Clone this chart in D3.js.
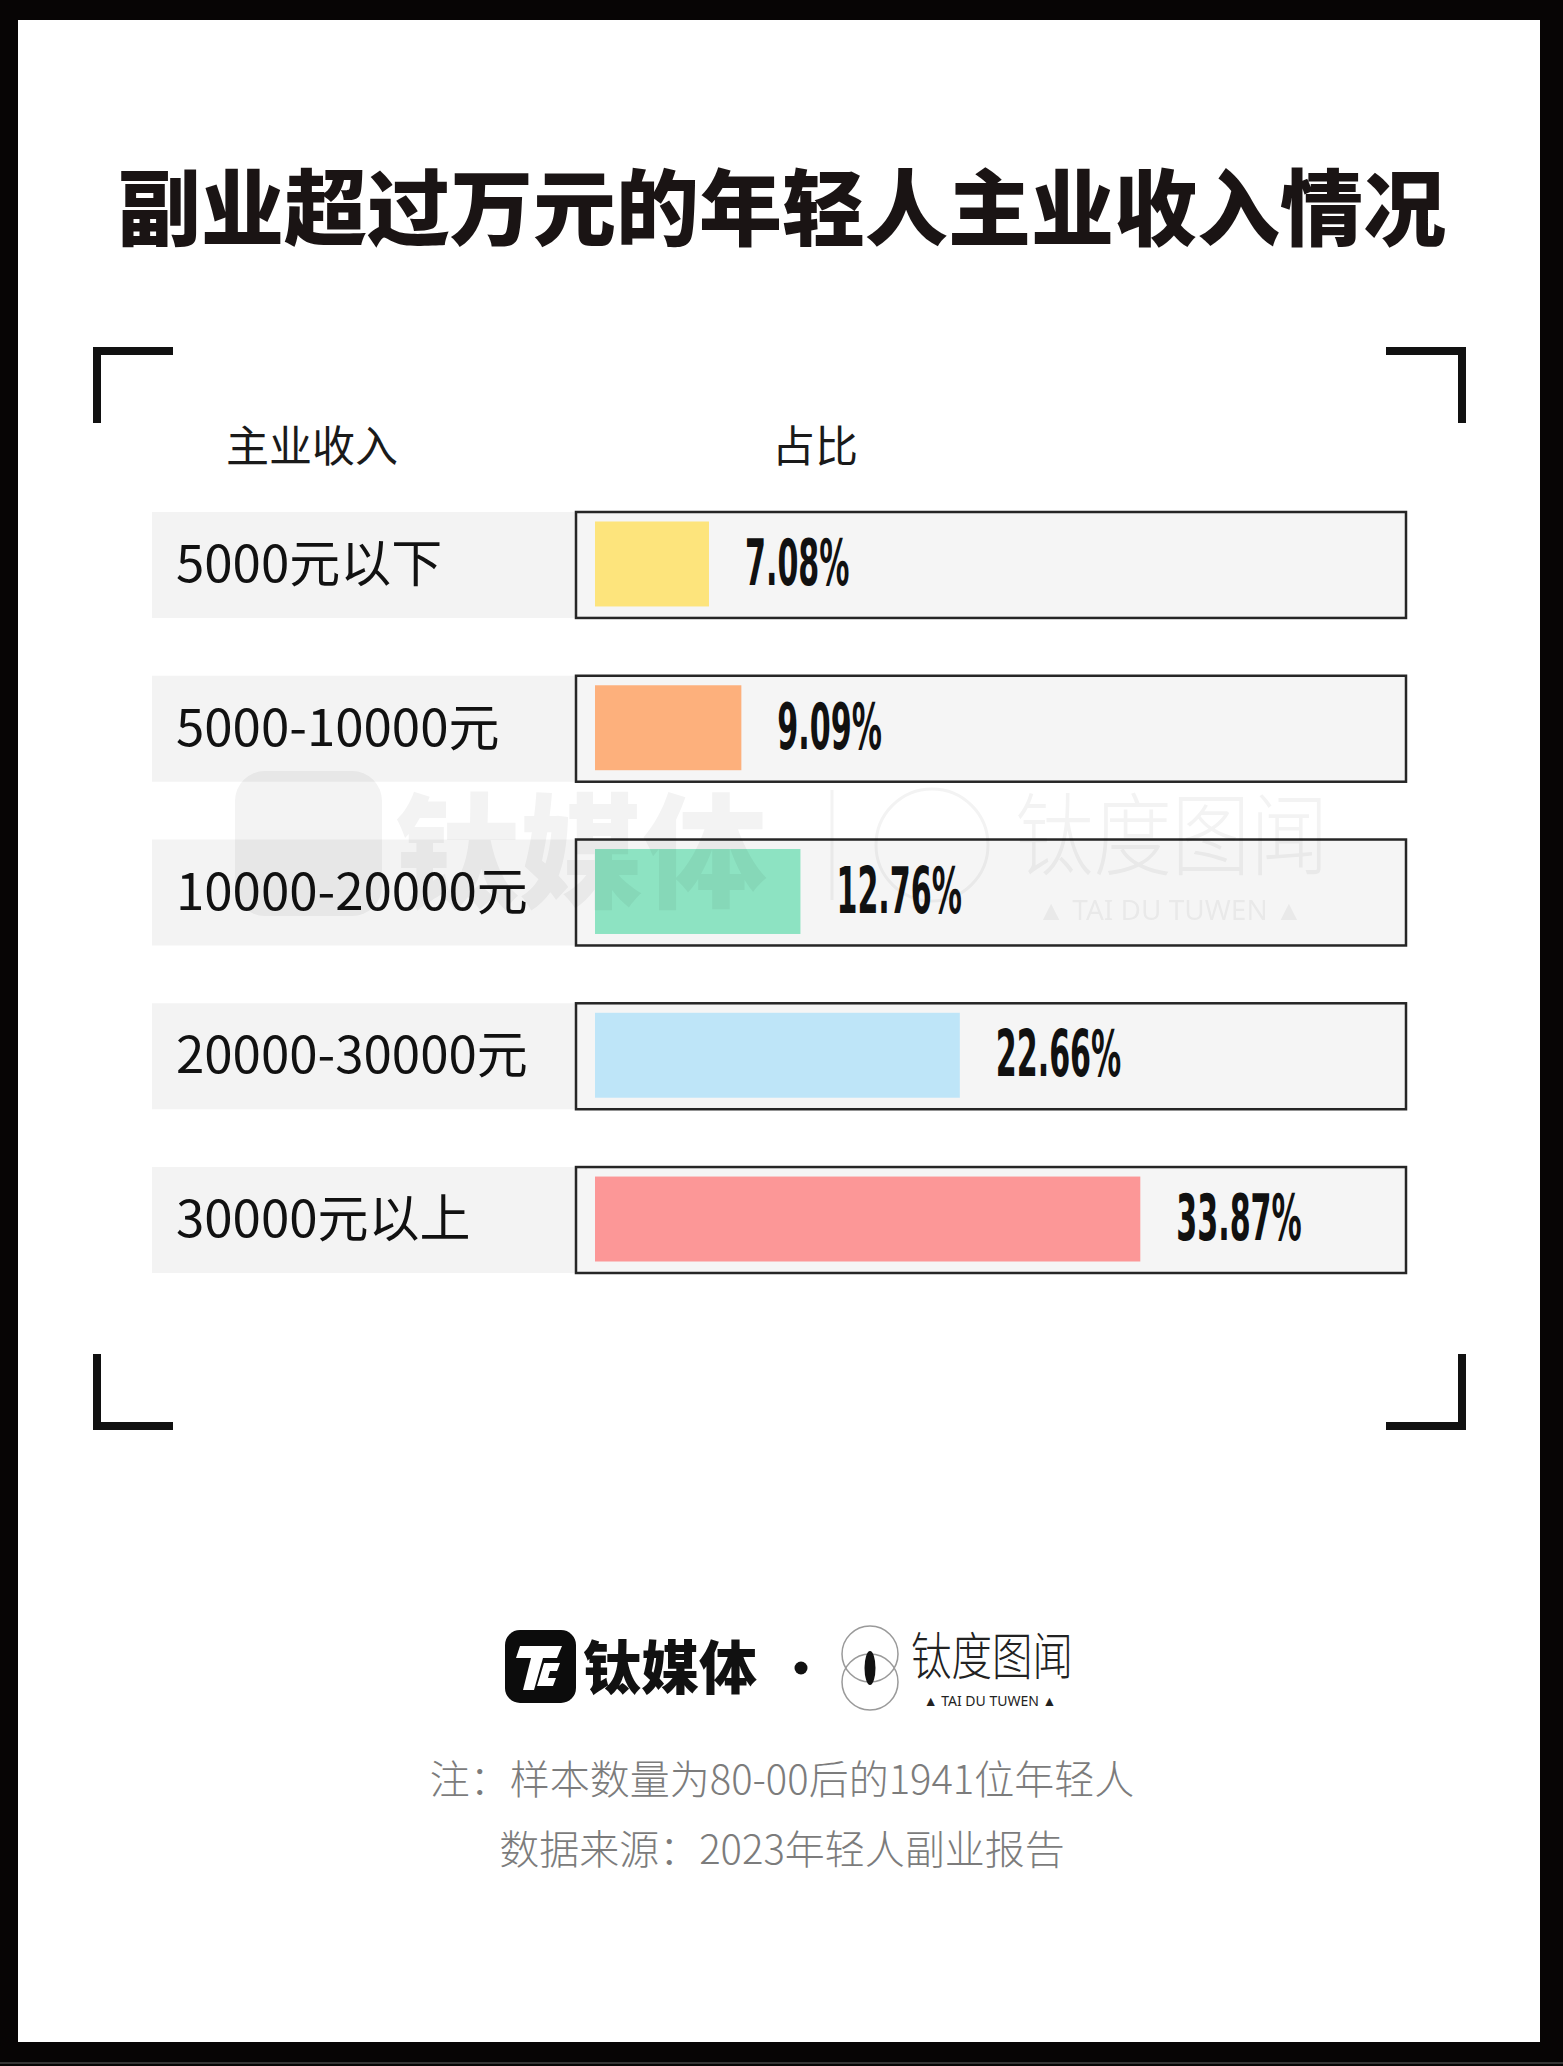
<!DOCTYPE html>
<html><head><meta charset="utf-8">
<script src="https://cdn.jsdelivr.net/npm/d3@7"></script>
<style>html,body{margin:0;padding:0;background:#000;}svg{display:block;}</style>
</head><body>
<script>
const title = "副业超过万元的年轻人主业收入情况";
const headers = ["主业收入", "占比"];
const categories = ["5000元以下", "5000-10000元", "10000-20000元", "20000-30000元", "30000元以上"];
const values = [7.08, 9.09, 12.76, 22.66, 33.87];
const valueLabels = ["7.08%", "9.09%", "12.76%", "22.66%", "33.87%"];
const colors = ["#fde47c", "#fdb07c", "#8de3c2", "#bee5f8", "#fc9797"];
const notes = ["注：样本数量为80-00后的1941位年轻人", "数据来源：2023年轻人副业报告"];
const brandA = "钛媒体", brandB = "钛度图闻", brandSub = "▲ TAI DU TUWEN ▲";

const W = 1563, H = 2066;
const svg = d3.select("body").append("svg").attr("width", W).attr("height", H);
svg.append("rect").attr("width", W).attr("height", H).attr("fill", "#070505");
svg.append("rect").attr("x", 18).attr("y", 20).attr("width", 1522).attr("height", 2022).attr("fill", "#fff");
svg.append("line").attr("x1", 0).attr("x2", W).attr("y1", 2063).attr("y2", 2063).attr("stroke", "#666").attr("stroke-width", 1);

const CJK = "'Noto Sans CJK SC','Noto Sans',sans-serif";
const cx = 782;

// title
svg.append("text").attr("x", cx).attr("y", 239).attr("text-anchor", "middle")
  .attr("font-family", CJK).attr("font-weight", 900).attr("font-size", 83).attr("fill", "#1a1414")
  .text(title);

// corner brackets
const bw = 8, arm = 80;
const corners = [[93, 347, 1, 1], [1466, 347, -1, 1], [93, 1430, 1, -1], [1466, 1430, -1, -1]];
svg.selectAll("path.corner").data(corners).join("path").attr("class", "corner")
  .attr("d", d => `M${d[0] + d[2] * arm},${d[1] + d[3] * bw / 2} L${d[0] + d[2] * bw / 2},${d[1] + d[3] * bw / 2} L${d[0] + d[2] * bw / 2},${d[1] + d[3] * (arm - 4)}`)
  .attr("fill", "none").attr("stroke", "#111").attr("stroke-width", bw);

// scales
const y = d3.scaleBand().domain(categories).range([512, 1273]).paddingInner(0.353);
const x = d3.scaleLinear().domain([0, 50]).range([595, 1400]);

// headers
svg.selectAll("text.hdr").data(headers).join("text").attr("class", "hdr")
  .attr("x", (d, i) => i === 0 ? 312 : 815).attr("y", 462).attr("text-anchor", "middle")
  .attr("font-family", CJK).attr("font-size", 43).attr("fill", "#1a1a1a").text(d => d);

// rows
const rows = svg.selectAll("g.row").data(categories).join("g").attr("class", "row");
rows.append("rect").attr("x", 152).attr("y", d => y(d)).attr("width", 423).attr("height", y.bandwidth()).attr("fill", "#f3f3f3");
rows.append("text").attr("x", 176).attr("y", d => y(d) + y.bandwidth() / 2 + 17)
  .attr("font-family", CJK).attr("font-size", 51).attr("fill", "#111").text(d => d);
rows.append("rect").attr("x", 576).attr("y", d => y(d)).attr("width", 830).attr("height", y.bandwidth())
  .attr("fill", "#f5f5f5").attr("stroke", "#262626").attr("stroke-width", 2.5);
rows.append("rect").attr("x", x(0)).attr("y", d => y(d) + 9.5).attr("width", (d, i) => x(values[i]) - x(0))
  .attr("height", y.bandwidth() - 21).attr("fill", (d, i) => colors[i]);
rows.append("text")
  .attr("transform", (d, i) => `translate(${x(values[i]) + 36},${y(d) + y.bandwidth() / 2 + 20}) scale(0.54,1.02)`)
  .attr("font-family", "'Liberation Sans Narrow','DejaVu Sans Condensed','Liberation Sans',sans-serif")
  .attr("font-weight", 700).attr("font-size", 62).attr("fill", "#111").text((d, i) => valueLabels[i]);

// watermark (faint, overlays the chart)
const wm = svg.append("g").attr("opacity", 0.05).attr("pointer-events", "none");
wm.append("rect").attr("x", 235).attr("y", 771).attr("width", 147).attr("height", 145).attr("rx", 30).attr("fill", "#000");
wm.append("text").attr("x", 395).attr("y", 898).attr("font-family", CJK).attr("font-weight", 900).attr("font-size", 124).attr("fill", "#000").text(brandA);
wm.append("line").attr("x1", 832).attr("x2", 832).attr("y1", 790).attr("y2", 900).attr("stroke", "#000").attr("stroke-width", 3);
wm.append("circle").attr("cx", 932).attr("cy", 845).attr("r", 56).attr("fill", "none").attr("stroke", "#000").attr("stroke-width", 3);
wm.append("text").attr("transform", "translate(1015,868) scale(0.98,1.12)").attr("font-family", CJK).attr("font-weight", 300).attr("font-size", 80).attr("fill", "#000").text(brandB);
wm.append("text").attr("x", 1170).attr("y", 920).attr("text-anchor", "middle").attr("font-family", "'Noto Sans',sans-serif").attr("font-size", 28).attr("fill", "#000").text(brandSub);

// footer logo A
const la = svg.append("g");
la.append("rect").attr("x", 505).attr("y", 1630).attr("width", 71).attr("height", 73).attr("rx", 15).attr("fill", "#0c0c0c");
la.append("path").attr("d", "M520,1646 L562,1646 L557,1658 L543,1658 L534,1690 L523,1690 L531,1658 L516,1658 Z").attr("fill", "#fff");
la.append("path").attr("d", "M544,1663 L560,1663 L557,1671 L550,1671 L548,1678 L556,1678 L553,1686 L537,1686 Z").attr("fill", "#fff");
la.append("text").attr("x", 583).attr("y", 1689).attr("font-family", CJK).attr("font-weight", 900).attr("font-size", 58).attr("fill", "#111").text(brandA);
la.append("circle").attr("cx", 801).attr("cy", 1668).attr("r", 6.5).attr("fill", "#111");

// footer logo B
const lb = svg.append("g");
lb.append("circle").attr("cx", 870).attr("cy", 1654).attr("r", 28).attr("fill", "none").attr("stroke", "#9a9a9a").attr("stroke-width", 1.5);
lb.append("circle").attr("cx", 870).attr("cy", 1682).attr("r", 28).attr("fill", "none").attr("stroke", "#9a9a9a").attr("stroke-width", 1.5);
lb.append("ellipse").attr("cx", 870).attr("cy", 1668).attr("rx", 5.5).attr("ry", 17).attr("fill", "#111");
lb.append("text").attr("transform", "translate(911,1675) scale(0.92,1.15)").attr("font-family", CJK).attr("font-weight", 300)
  .attr("font-size", 44).attr("fill", "#222").text(brandB);
lb.append("text").attr("x", 990).attr("y", 1706).attr("text-anchor", "middle").attr("font-family", "'Noto Sans',sans-serif")
  .attr("font-size", 14).attr("fill", "#222").text(brandSub);

// notes
svg.selectAll("text.note").data(notes).join("text").attr("class", "note")
  .attr("x", cx).attr("y", (d, i) => 1794 + i * 70).attr("text-anchor", "middle")
  .attr("font-family", CJK).attr("font-weight", 300).attr("font-size", 40).attr("fill", "#7c7c7c").text(d => d);
</script>
</body></html>
